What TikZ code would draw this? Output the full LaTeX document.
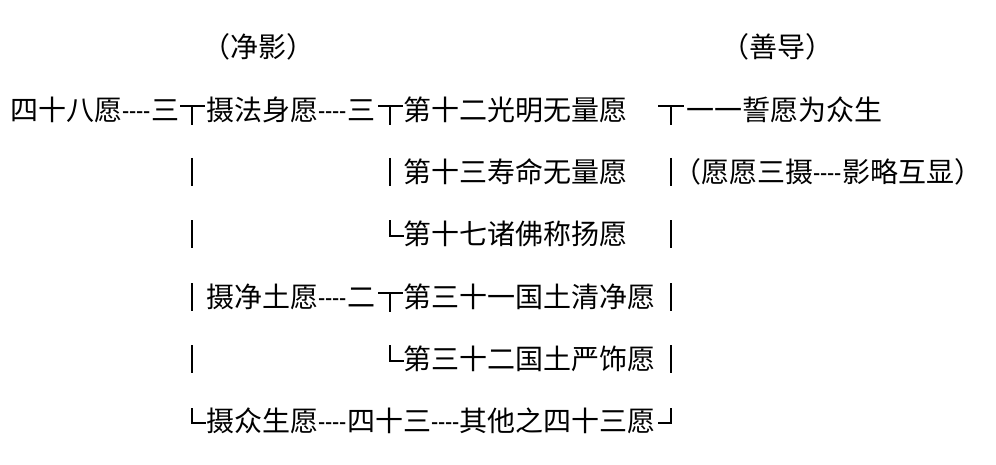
\documentclass[tikz,border=0pt]{standalone}
\usepackage{fontspec}
\usepackage{graphicx}
\newfontfamily\cjk{Noto Sans CJK SC}
\newcommand\dashes{\scalebox{0.74}[1]{----}}
\tikzset{
  wish/.style={anchor=west, inner sep=0pt, font=\cjk\fontsize{14}{16}\selectfont},
  brk/.style={line width=1.45pt},
}
\begin{document}
\begin{tikzpicture}[x=0.5pt,y=0.5pt,yscale=-1,xscale=1]
\useasboundingbox (0,0) rectangle (996,465);

% Text Node
\node[wish, anchor=center] (jingying) at (258,47) {（净影）};
% Text Node
\node[wish, anchor=center] (shandao) at (777,47) {（善导）};

% Text Node
\node[wish] (sishiba) at (10,110) {四十八愿\dashes 三};
% Text Node
\node[wish] (fashen) at (206,110) {摄法身愿\dashes 三};
% Text Node
\node[wish] (g12) at (403,110) {第十二光明无量愿};
% Text Node
\node[wish] (shiyuan) at (686,110) {一一誓愿为众生};
% Text Node
\node[wish] (g13) at (403,172) {第十三寿命无量愿};
% Text Node
\node[wish] (sanshe) at (673,172) {（愿愿三摄\dashes 影略互显）};
% Text Node
\node[wish] (g17) at (403,234) {第十七诸佛称扬愿};
% Text Node
\node[wish] (jingtu) at (206,297) {摄净土愿\dashes 二};
% Text Node
\node[wish] (g31) at (403,297) {第三十一国土清净愿};
% Text Node
\node[wish] (g32) at (403,359) {第三十二国土严饰愿};
% Text Node
\node[wish] (zhongsheng) at (206,421) {摄众生愿\dashes 四十三\dashes 其他之四十三愿};

%Straight Lines (first column)
\draw[brk] (180,106) -- (205,106) (192,106) -- (192,125);
\draw[brk] (192,158) -- (192,186);
\draw[brk] (192,220) -- (192,248);
\draw[brk] (192,283) -- (192,311);
\draw[brk] (192,345) -- (192,373);
\draw[brk] (192,408) -- (192,423) -- (206,423);

%Straight Lines (second column)
\draw[brk] (378,106) -- (403,106) (390,106) -- (390,125);
\draw[brk] (390,158) -- (390,186);
\draw[brk] (390,220) -- (390,236) -- (404,236);
\draw[brk] (378,293) -- (403,293) (390,293) -- (390,312);
\draw[brk] (390,345) -- (390,361) -- (404,361);

%Straight Lines (third column)
\draw[brk] (658,106) -- (684,106) (671,106) -- (671,125);
\draw[brk] (671,158) -- (671,186);
\draw[brk] (671,220) -- (671,248);
\draw[brk] (671,283) -- (671,311);
\draw[brk] (671,345) -- (671,373);
\draw[brk] (658,423) -- (671,423) -- (671,408);
\end{tikzpicture}
\end{document}
